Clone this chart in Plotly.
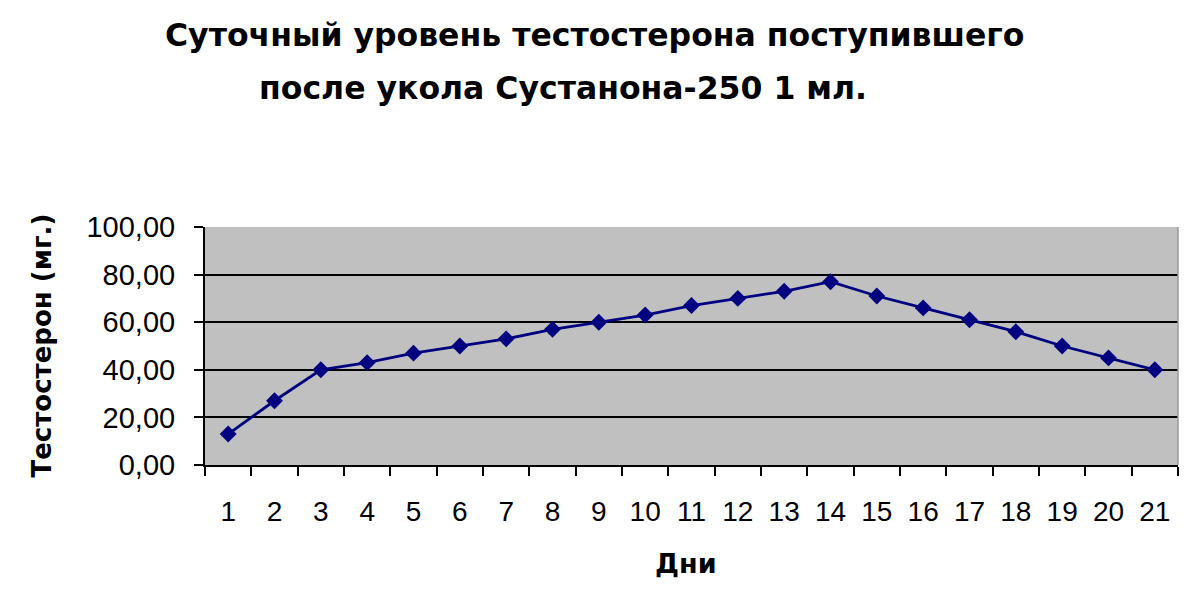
import plotly.graph_objects as go

# Data
days = [str(d) for d in range(1, 22)]
testosterone = [13, 27, 40, 43, 47, 50, 53, 57, 60, 63, 67,
                70, 73, 77, 71, 66, 61, 56, 50, 45, 40]

title_line1 = "Суточный уровень тестостерона поступившего"
title_line2 = "после укола Сустанона-250 1 мл."
x_title = "Дни"
y_title = "Тестостерон (мг.)"

FONT = "Liberation Sans, Arial, sans-serif"
BOLD_FONT = "DejaVu Sans, Verdana, sans-serif"
NAVY = "#000080"

# the page body has an 8px default margin, so the figure is pulled back by it
OFFSET = 8

fig = go.Figure()
fig.add_trace(
    go.Scatter(
        x=days,
        y=testosterone,
        mode="lines+markers",
        line=dict(color=NAVY, width=2.8),
        marker=dict(symbol="diamond", size=13, color=NAVY),
        showlegend=False,
    )
)

fig.update_xaxes(
    type="category",
    range=[-0.5, len(days) - 0.5],
    showline=True,
    linecolor="black",
    linewidth=2,
    ticks="outside",
    tickson="boundaries",
    ticklen=9,
    tickwidth=2,
    tickcolor="black",
    ticklabelstandoff=20,
    showgrid=False,
    tickfont=dict(family=FONT, size=28, color="black"),
)
fig.update_yaxes(
    range=[0, 100],
    tickvals=[0, 20, 40, 60, 80, 100],
    tickformat=".2f",
    showline=True,
    linecolor="black",
    linewidth=2,
    ticks="outside",
    ticklen=9,
    tickwidth=2,
    tickcolor="black",
    ticklabelstandoff=13,
    showgrid=True,
    gridcolor="black",
    gridwidth=2,
    zeroline=False,
    tickfont=dict(family=FONT, size=29, color="black"),
)

# light border on the right edge of the plot area
fig.add_shape(type="line", xref="paper", yref="paper", x0=1, x1=1, y0=0, y1=1,
              line=dict(color="#9a9a9a", width=1.5))

annotations = [
    dict(text=title_line1, x=0.3998, y=1.807, size=31.5, angle=0),
    dict(text=title_line2, x=0.368, y=1.584, size=31.5, angle=0),
    dict(text=x_title, x=0.494, y=-0.412, size=27, angle=0),
    dict(text=y_title, x=-0.168, y=0.5, size=26, angle=-90),
]
for a in annotations:
    fig.add_annotation(
        text="<b>%s</b>" % a["text"],
        x=a["x"], y=a["y"],
        xref="paper", yref="paper",
        xanchor="center", yanchor="middle",
        showarrow=False,
        textangle=a["angle"],
        font=dict(family=BOLD_FONT, size=a["size"], color="black"),
    )

fig.update_layout(
    width=1200,
    height=606,
    margin=dict(l=205 - OFFSET, r=22 + OFFSET, t=227 - OFFSET, b=141 + OFFSET),
    plot_bgcolor="#C0C0C0",
    paper_bgcolor="white",
    separators=", ",
    font=dict(family=FONT, color="black"),
)

fig.write_html("out.html")
